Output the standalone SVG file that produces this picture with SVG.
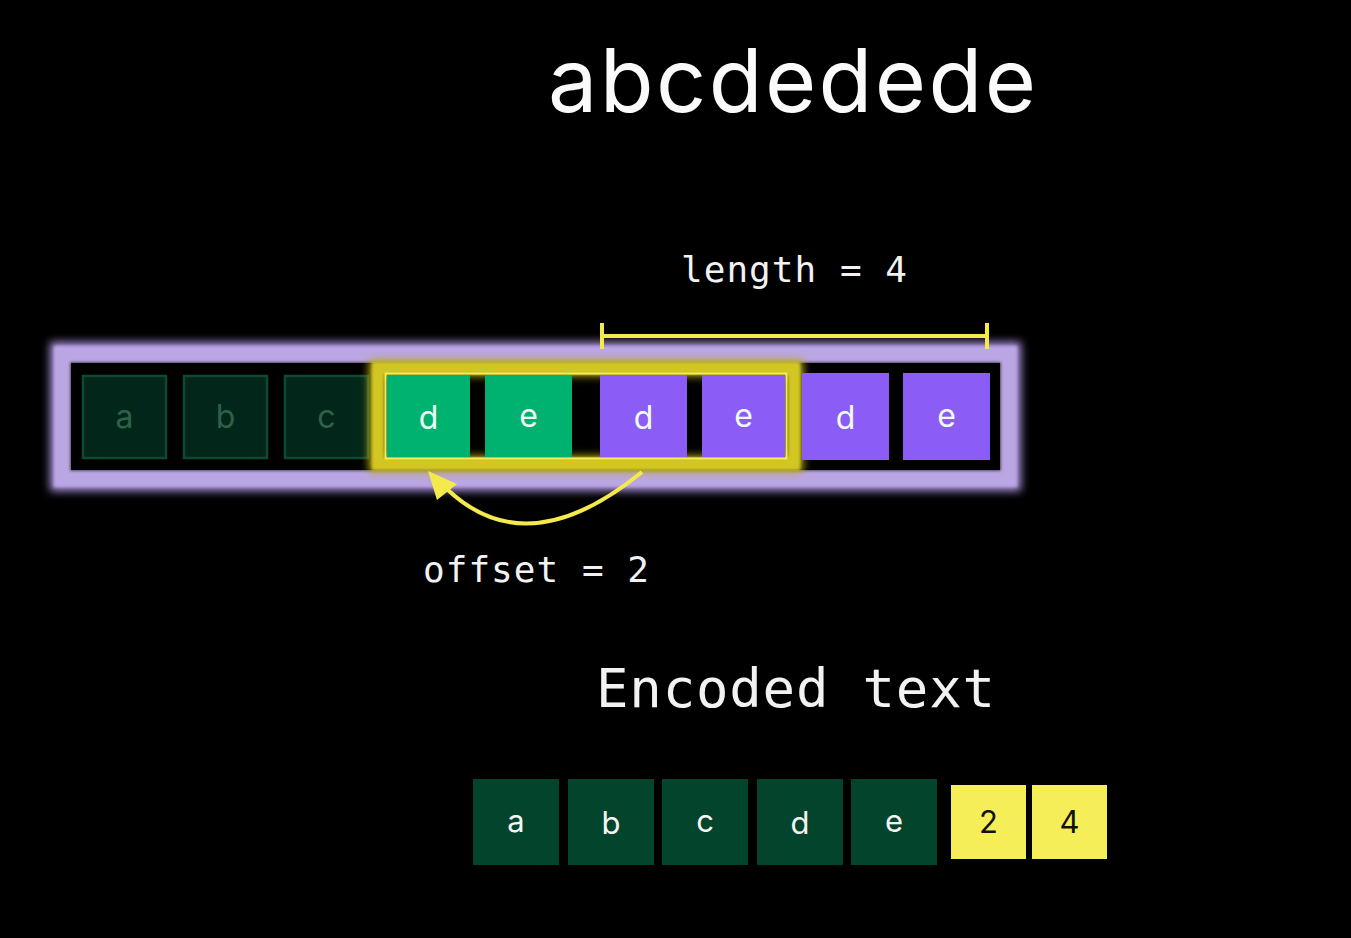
<svg xmlns="http://www.w3.org/2000/svg" width="1351" height="938" viewBox="0 0 1351 938">
<style>
.mono{font-family:"DejaVu Sans Mono","Liberation Mono",monospace;fill:#f2f2f2}
.sans{font-family:Inter,"Noto Sans","Liberation Sans",sans-serif}
.dim{fill:#03261a;stroke:#0d4a32;stroke-width:2.5}
.dimt{fill:#2d6249;font-size:32px;text-anchor:middle}
.grn{fill:#00b270}
.pur{fill:#8c5cf6}
.lt{fill:#eefcf4;font-size:32px;text-anchor:middle}
.enc{fill:#03442c}
.yel{fill:#f6ee58}
.et{fill:#f4f4f4;font-size:31px;text-anchor:middle}
.yt{fill:#111;font-size:31px;text-anchor:middle}
.ylw{stroke:#f4ea4c;stroke-width:4;fill:none}
</style>
<defs>
<filter id="glow" x="-10%" y="-40%" width="120%" height="180%"><feGaussianBlur stdDeviation="4"/></filter>
<filter id="soft" x="-10%" y="-40%" width="120%" height="180%"><feGaussianBlur stdDeviation="1.5"/></filter>
</defs>
<rect width="1351" height="938" fill="#000"/>
<g id="title"><text class="sans" x="548" y="112" font-size="88" fill="#fafafa" textLength="488" lengthAdjust="spacing">abcdedede</text></g>
<g id="window">
<rect x="62" y="354" width="947" height="125" fill="none" stroke="#a88fd8" stroke-width="24" filter="url(#glow)"/>
<rect x="62" y="354" width="947" height="125" fill="#000" stroke="#bba6e4" stroke-width="16" filter="url(#soft)"/>
<rect x="71" y="363" width="929" height="107" fill="#000"/>
</g>
<g id="cell-a"><rect class="dim" x="83" y="376" width="83" height="82"/><text class="sans dimt" x="124.5" y="428">a</text></g>
<g id="cell-b"><rect class="dim" x="184" y="376" width="83" height="82"/><text class="sans dimt" x="225.5" y="428">b</text></g>
<g id="cell-c"><rect class="dim" x="285" y="376" width="83" height="82"/><text class="sans dimt" x="326.5" y="428">c</text></g>
<g id="match">
<rect x="377" y="368" width="418" height="96" fill="none" stroke="#b8ac16" stroke-width="16" filter="url(#glow)"/>
<rect x="378" y="368" width="416" height="96" fill="none" stroke="#d2c624" stroke-width="12" filter="url(#soft)"/>
<rect x="385.5" y="373.5" width="401" height="85" fill="none" stroke="#f6ec58" stroke-width="2"/>
</g>
<g id="cell-d1"><rect class="grn" x="387" y="375" width="83" height="82"/><text class="sans lt" x="428.5" y="429">d</text></g>
<g id="cell-e1"><rect class="grn" x="485" y="375" width="87" height="82"/><text class="sans lt" x="528.5" y="427">e</text></g>
<g id="cell-d2"><rect class="pur" x="600" y="375" width="87" height="82"/><text class="sans lt" x="643.5" y="429">d</text></g>
<g id="cell-e2"><rect class="pur" x="702" y="375" width="83" height="82"/><text class="sans lt" x="743.5" y="427">e</text></g>
<g id="cell-d3"><rect class="pur" x="802" y="373" width="87" height="87"/><text class="sans lt" x="845.5" y="429">d</text></g>
<g id="cell-e3"><rect class="pur" x="903" y="373" width="87" height="87"/><text class="sans lt" x="946.5" y="427">e</text></g>
<g id="connectors">
<path class="ylw" d="M602,336 H987 M602,323 V349 M987,323 V349"/>
<path class="ylw" d="M642,472 Q528,565 448,490"/>
<polygon points="428,471 457,484 437,500" fill="#f4ea4c"/>
</g>
<g id="length-label"><text class="mono" x="681" y="282" font-size="36" textLength="226" lengthAdjust="spacing">length = 4</text></g>
<g id="offset-label"><text class="mono" x="423" y="582" font-size="36" textLength="226" lengthAdjust="spacing">offset = 2</text></g>
<g id="encoded-label"><text class="mono" x="596" y="707" font-size="54" textLength="399" lengthAdjust="spacing">Encoded text</text></g>
<g id="enc-a"><rect class="enc" x="473" y="779" width="86" height="86"/><text class="sans et" x="516" y="832">a</text></g>
<g id="enc-b"><rect class="enc" x="568" y="779" width="86" height="86"/><text class="sans et" x="611" y="834">b</text></g>
<g id="enc-c"><rect class="enc" x="662" y="779" width="86" height="86"/><text class="sans et" x="705" y="832">c</text></g>
<g id="enc-d"><rect class="enc" x="757" y="779" width="86" height="86"/><text class="sans et" x="800" y="834">d</text></g>
<g id="enc-e"><rect class="enc" x="851" y="779" width="86" height="86"/><text class="sans et" x="894" y="832">e</text></g>
<g id="enc-2"><rect class="yel" x="951" y="785" width="75" height="74"/><text class="sans yt" x="988.5" y="833">2</text></g>
<g id="enc-4"><rect class="yel" x="1032" y="785" width="75" height="74"/><text class="sans yt" x="1069.5" y="833">4</text></g>
</svg>
